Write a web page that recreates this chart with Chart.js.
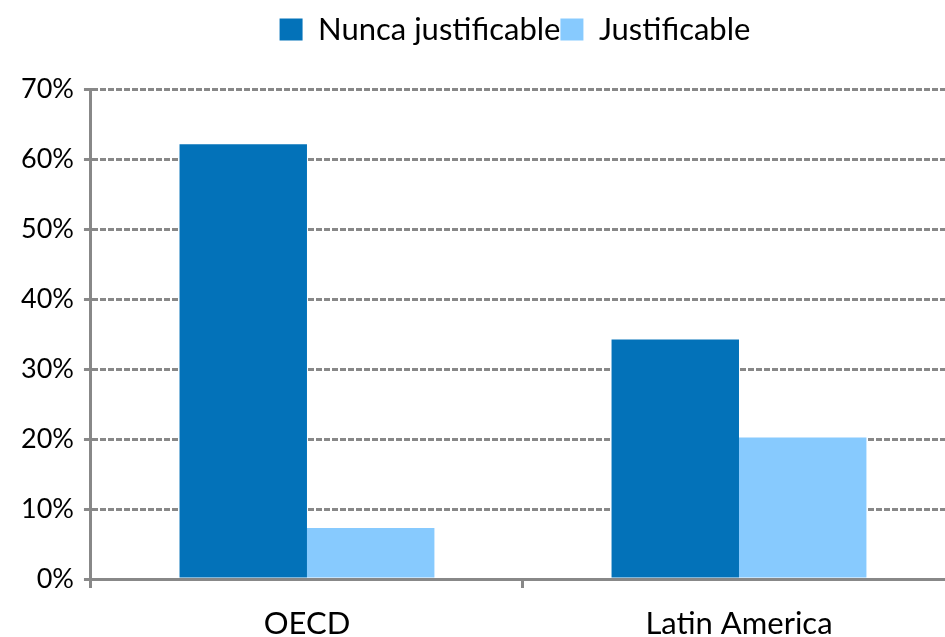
<!DOCTYPE html>
<html>
<head>
<meta charset="utf-8">
<script src="https://cdn.jsdelivr.net/npm/chart.js@4/dist/chart.umd.min.js"></script>
<style>
  html, body { margin: 0; padding: 0; background: #fff; overflow: hidden; }
  #clip { width: 945px; height: 637px; overflow: hidden; position: relative; }
  #wrap { width: 955px; height: 637px; position: relative; }
</style>
</head>
<body>
<div id="clip"><div id="wrap"><canvas id="c"></canvas></div></div>
<script>
const categories = ["OECD", "Latin America"];
const seriesNames = ["Nunca justificable", "Justificable"];
const nuncaJustificable = [62.1, 34.2];
const justificable = [7.3, 20.2];
const yTicks = [0, 10, 20, 30, 40, 50, 60, 70];

const gridGray = '#888888';
const FONT = 'Lato, "Open Sans", sans-serif';

const legendTweak = {
  id: 'legendTweak',
  beforeInit(chart) {
    const orig = chart.legend.fit;
    chart.legend.fit = function () { orig.call(this); this.height = 75; };
  },
  afterLayout(chart) {
    chart.legend.left -= 8;
    chart.legend.right -= 8;
  }
};

new Chart(document.getElementById('c'), {
  type: 'bar',
  data: {
    labels: categories,
    datasets: [
      { label: seriesNames[0], data: nuncaJustificable, backgroundColor: '#0372B9', borderWidth: 0 },
      { label: seriesNames[1], data: justificable, backgroundColor: '#87CAFE', borderWidth: 0 }
    ]
  },
  plugins: [legendTweak],
  options: {
    responsive: true,
    maintainAspectRatio: false,
    animation: false,
    devicePixelRatio: 1,
    layout: { padding: { left: 11, right: 0, top: 14, bottom: -22 } },
    datasets: { bar: { categoryPercentage: 0.59, barPercentage: 1.0 } },
    plugins: {
      tooltip: { enabled: false },
      legend: {
        position: 'top',
        fullSize: false,
        labels: {
          font: { family: FONT, size: 31 },
          color: '#000',
          boxWidth: 23,
          boxHeight: 22,
          padding: 0
        }
      }
    },
    scales: {
      x: {
        offset: true,
        grid: {
          offset: true,
          drawOnChartArea: false,
          drawTicks: true,
          tickLength: 9,
          color: gridGray,
          lineWidth: 3
        },
        border: { display: true, color: gridGray, width: 3 },
        ticks: {
          font: { family: FONT, size: 31, lineHeight: 1.0 },
          color: '#000',
          padding: 20
        }
      },
      y: {
        min: 0,
        max: 70,
        afterBuildTicks: (axis) => { axis.ticks = yTicks.map(v => ({ value: v })); },
        grid: {
          color: gridGray,
          lineWidth: 3,
          tickLength: 7,
          tickBorderDash: [],
          tickColor: gridGray
        },
        border: { display: true, color: gridGray, width: 3, dash: [6, 2] },
        ticks: {
          font: { family: FONT, size: 27 },
          color: '#000',
          padding: 10,
          callback: (v) => v + '%'
        }
      }
    }
  }
});
</script>
</body>
</html>
